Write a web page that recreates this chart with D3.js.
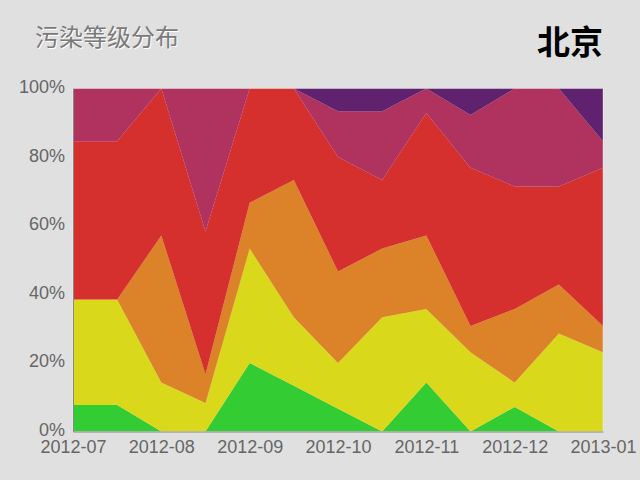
<!DOCTYPE html>
<meta charset="utf-8">
<html>
<head>
<script src="https://cdn.jsdelivr.net/npm/d3@7"></script>
<style>
body { margin: 0; background: #e0e0e0; }
svg { display: block; }
.axis text {
  font-family: "Liberation Sans", Arial, sans-serif;
  font-size: 18px;
  fill: #666;
}
.title {
  font-family: "Noto Sans CJK SC", sans-serif;
  font-size: 24px;
  fill: #7a7a7a;
}
.city {
  font-family: "Noto Sans CJK SC", sans-serif;
  font-size: 33px;
  font-weight: bold;
  fill: #000;
}
</style>
<title></title>
</head>
<body>
<script>

// half-month periods, days per pollution level
var periods = ["07a","07b","08a","08b","09a","09b","10a","10b","11a","11b","12a","12b","01a"];
var monthLabels = ["2012-07","2012-08","2012-09","2012-10","2012-11","2012-12","2013-01"];
var levels = ["excellent","good","light","moderate","heavy","severe"];

var excellent = [1, 1, 0, 0, 3, 2, 1, 0, 2, 0, 1, 0, 0];
var good      = [4, 4, 2, 1, 5, 3, 2, 5, 3, 3, 1, 4, 3];
var light     = [0, 0, 6, 1, 2, 6, 4, 3, 3, 1, 3, 2, 1];
var moderate  = [6, 6, 6, 5, 5, 4, 5, 3, 5, 6, 5, 4, 6];
var heavy     = [2, 2, 0, 5, 0, 0, 2, 3, 1, 2, 4, 4, 1];
var severe    = [0, 0, 0, 0, 0, 0, 1, 1, 0, 1, 0, 0, 2];

var colors = ["#33cc33", "#dad81a", "#dc8228", "#d5302e", "#b0325f", "#60226e"];
var yTicks = [0, 0.2, 0.4, 0.6, 0.8, 1];

var width = 640, height = 480;
var margin = {left: 73, right: 37, top: 88.5, bottom: 48.5};

var rows = periods.map(function(p, i) {
  return {
    period: p,
    excellent: excellent[i],
    good: good[i],
    light: light[i],
    moderate: moderate[i],
    heavy: heavy[i],
    severe: severe[i]
  };
});

var svg = d3.select("body").append("svg")
    .attr("width", width)
    .attr("height", height);

var x = d3.scalePoint()
    .domain(periods)
    .range([margin.left, width - margin.right]);

var y = d3.scaleLinear()
    .domain([0, 1])
    .range([height - margin.bottom, margin.top]);

var series = d3.stack()
    .keys(levels)
    .offset(d3.stackOffsetExpand)(rows);

var area = d3.area()
    .x(function(d) { return x(d.data.period); })
    .y0(function(d) { return y(d[0]); })
    .y1(function(d) { return y(d[1]); });

svg.append("g")
  .selectAll("path")
  .data(series)
  .enter().append("path")
    .attr("d", area)
    .attr("fill", function(d, i) { return colors[i]; });

// thin frame round the plot
svg.append("rect")
    .attr("x", margin.left)
    .attr("y", margin.top)
    .attr("width", width - margin.left - margin.right)
    .attr("height", height - margin.top - margin.bottom)
    .attr("fill", "none")
    .attr("stroke", "#fff")
    .attr("stroke-opacity", 0.35)
    .attr("stroke-width", 1);

var yAxis = svg.append("g")
    .attr("class", "axis")
    .attr("transform", "translate(" + margin.left + ",0)")
    .call(d3.axisLeft(y).tickValues(yTicks).tickSize(0).tickPadding(8)
      .tickFormat(function(d) { return Math.round(d * 100) + "%"; }));
yAxis.select(".domain").attr("stroke", "#888");
yAxis.selectAll("text").attr("dy", "0.22em");

var xAxis = svg.append("g")
    .attr("class", "axis")
    .attr("transform", "translate(0," + (height - margin.bottom) + ")")
    .call(d3.axisBottom(x).tickSize(0).tickPadding(9)
      .tickValues(periods.filter(function(p, i) { return i % 2 === 0; }))
      .tickFormat(function(p) { return monthLabels[periods.indexOf(p) / 2]; }));
xAxis.select(".domain").attr("stroke", "#888");

// title with a light shadow
svg.append("text")
    .attr("class", "title")
    .attr("x", 36)
    .attr("y", 47)
    .style("fill", "#fff")
    .text("污染等级分布");

svg.append("text")
    .attr("class", "title")
    .attr("x", 35)
    .attr("y", 46)
    .text("污染等级分布");

svg.append("text")
    .attr("class", "city")
    .attr("x", 603)
    .attr("y", 54)
    .attr("text-anchor", "end")
    .text("北京");

</script>
</body>
</html>
